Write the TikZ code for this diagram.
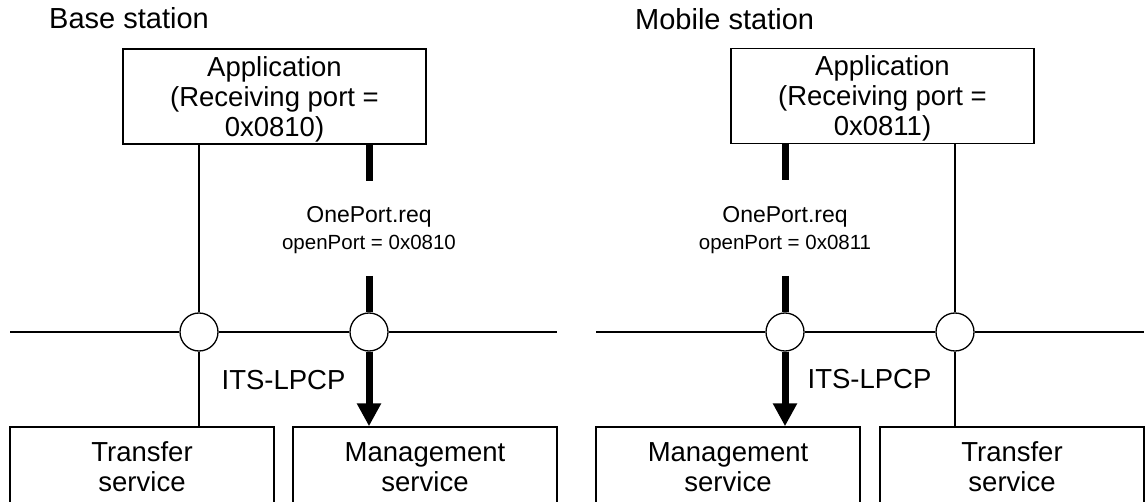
\documentclass[tikz,border=0pt]{standalone}
\usepackage{fontspec}
\setmainfont{Liberation Sans}
\usetikzlibrary{arrows.meta}
\newcommand{\topstrut}{\rule{0pt}{25pt}}
\begin{document}
\begin{tikzpicture}[x=1pt,y=-1pt,
  box/.style={draw, line width=1.5pt, inner sep=0pt, align=center,
    font=\fontsize{27.5}{30}\selectfont},
  appbox/.style={box, minimum width=303pt, minimum height=95pt},
  svcbox/.style={box, minimum width=264pt, minimum height=80pt},
  sap/.style={draw, circle, fill=white, line width=1.3pt, minimum size=38pt, inner sep=0pt},
  thinline/.style={line width=1.3pt},
  thickline/.style={line width=7pt},
  thickarrow/.style={line width=7pt, -{Triangle[width=23pt,length=23pt]}},
  title/.style={anchor=base west, inner sep=0pt, font=\fontsize{29}{32}\selectfont},
  lbl/.style={anchor=base, inner sep=0pt, font=\fontsize{27.5}{30}\selectfont},
  prim/.style={anchor=base, inner sep=0pt, font=\fontsize{23}{26}\selectfont},
  param/.style={anchor=base, inner sep=0pt, font=\fontsize{20.5}{24}\selectfont}
]
\useasboundingbox (0,0) rectangle (1145,502);

% titles
\node[title] (bs) at (49,29) {Base station};
\node[title] (ms) at (635,30) {Mobile station};

% application boxes
\node[appbox] (app1) at (274.5,96.5) {\topstrut Application\\(Receiving port =\\0x0810)};
\node[appbox] (app2) at (882.5,96) {\topstrut Application\\(Receiving port =\\0x0811)};

% service boxes (bottom cut off by the page)
\node[svcbox] (trans1) at (142,467) {Transfer\\service};
\node[svcbox] (mgmt1) at (425,467) {Management\\service};
\node[svcbox] (mgmt2) at (728,467) {Management\\service};
\node[svcbox] (trans2) at (1012,467) {Transfer\\service};

% service access points
\node[sap] (c1) at (199,332) {};
\node[sap] (c2) at (369,332) {};
\node[sap] (c3) at (785,332) {};
\node[sap] (c4) at (955,332) {};

% horizontal layer lines
\coordinate (l1) at (10,332);
\coordinate (r1) at (557,332);
\coordinate (l2) at (596,332);
\coordinate (r2) at (1144,332);
\draw[thinline] (l1) -- (c1.west) (c1.east) -- (c2.west) (c2.east) -- (r1);
\draw[thinline] (l2) -- (c3.west) (c3.east) -- (c4.west) (c4.east) -- (r2);

% thin vertical links
\draw[thinline] (c1 |- app1.south) -- (c1.north);
\draw[thinline] (c1.south) -- (c1 |- trans1.north);
\draw[thinline] (c4 |- app2.south) -- (c4.north);
\draw[thinline] (c4.south) -- (c4 |- trans2.north);

% thick primitive paths
\coordinate (g1a) at (369,181);
\coordinate (g1b) at (369,276);
\coordinate (g2a) at (785,180);
\coordinate (g2b) at (785,276);
\draw[thickline] (c2 |- app1.south) -- (g1a);
\draw[thickline] (g1b) -- (c2.north);
\draw[thickarrow] (c2.south) -- (c2 |- mgmt1.north);
\draw[thickline] (c3 |- app2.south) -- (g2a);
\draw[thickline] (g2b) -- (c3.north);
\draw[thickarrow] (c3.south) -- (c3 |- mgmt2.north);

% labels
\node[prim] (op1) at (369,223) {OnePort.req};
\node[param] (pp1) at (369,250) {openPort = 0x0810};
\node[prim] (op2) at (785,223) {OnePort.req};
\node[param] (pp2) at (785,250) {openPort = 0x0811};
\node[lbl] (its1) at (283.5,389) {ITS-LPCP};
\node[lbl] (its2) at (869.5,388) {ITS-LPCP};
\end{tikzpicture}
\end{document}
